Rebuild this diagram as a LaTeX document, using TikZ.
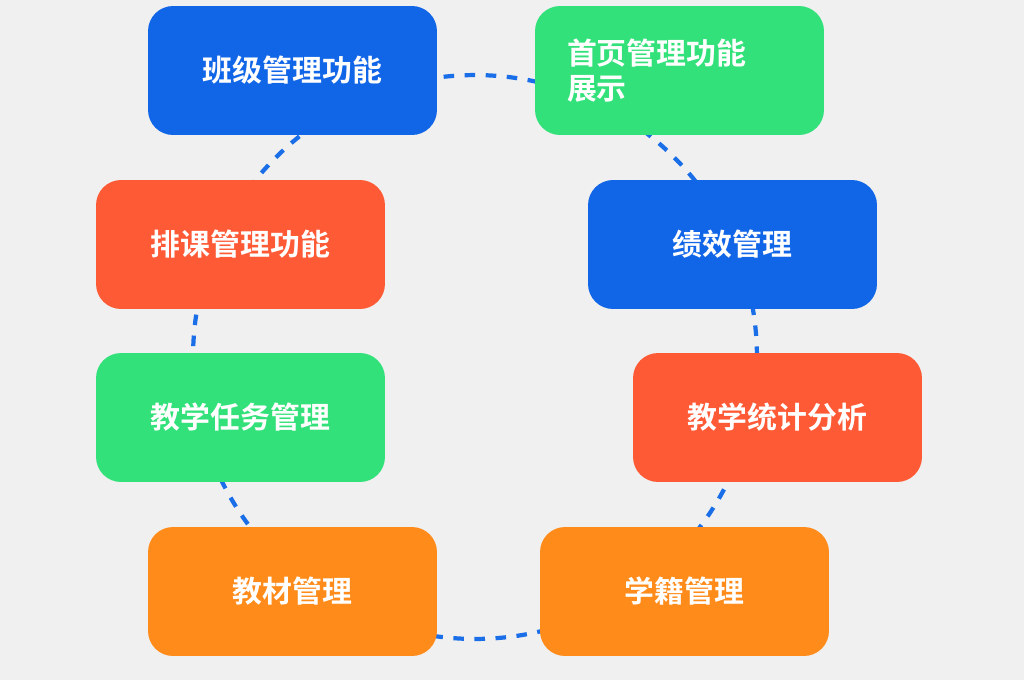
\documentclass[tikz,border=0pt]{standalone}
\usepackage{fontspec}
\newfontfamily\cjk{Noto Sans CJK SC}[BoldFont={Noto Sans CJK SC Bold}]
\definecolor{bgray}{HTML}{F0F0F0}
\definecolor{mblue}{HTML}{1166E8}
\definecolor{mgreen}{HTML}{33E17A}
\definecolor{mred}{HTML}{FF5A36}
\definecolor{morange}{HTML}{FF8C1A}
\definecolor{dblue}{HTML}{1A6FE8}
\tikzset{
  card/.style = {rounded corners=0.5cm, minimum width=5.78cm, minimum height=2.58cm,
                 text=white, font=\cjk\bfseries\fontsize{17}{22}\selectfont, align=center},
  ring/.style = {draw=dblue, line width=2.4pt, dash pattern=on 6pt off 6pt}
}
\begin{document}
\begin{tikzpicture}[x=0.02cm, y=-0.02cm]
\useasboundingbox[fill=bgray] (0,0) rectangle (1024,680);

% dashed ring behind the cards
\draw[ring] (475,357) circle (5.64cm);

% left column
\node[card, fill=mblue]   (banji)  at (292.5,70.5)  {班级管理功能};
\node[card, fill=mred]    (paike)  at (240.5,244.5) {排课管理功能};
\node[card, fill=mgreen]  (renwu)  at (240.5,417.5) {教学任务管理};
\node[card, fill=morange] (jiaocai) at (292.5,591.5) {教材管理};

% right column
\node[card, fill=mgreen]  (shouye) at (679.5,70.5)
  {\parbox{4.5cm}{\raggedright 首页管理功能\\[-2pt]展示}};
\node[card, fill=mblue]   (jixiao) at (732.5,244.5) {绩效管理};
\node[card, fill=mred]    (tongji) at (777.5,417.5) {教学统计分析};
\node[card, fill=morange] (xueji)  at (684.5,591.5) {学籍管理};
\end{tikzpicture}
\end{document}
